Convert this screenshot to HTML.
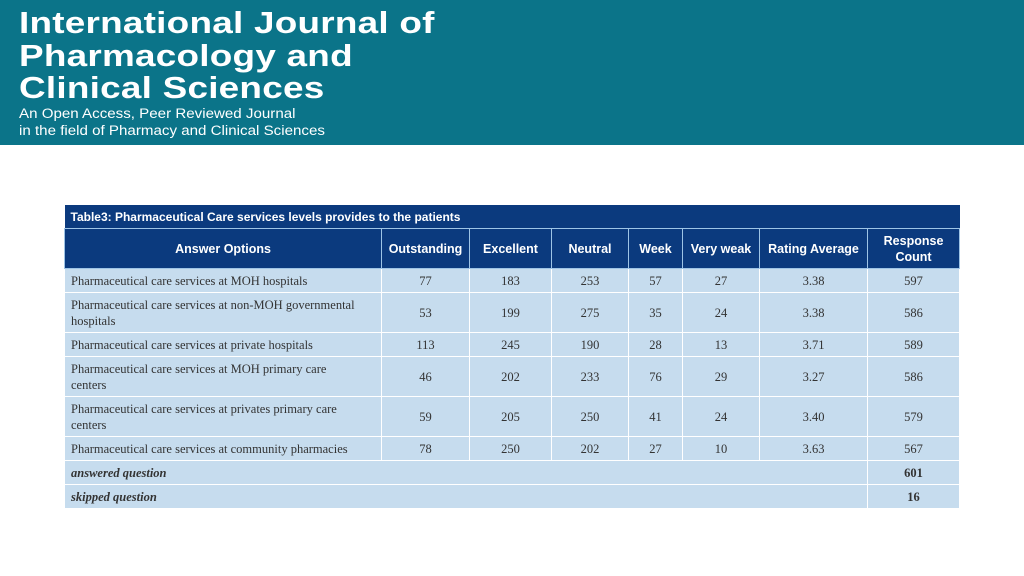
<!DOCTYPE html>
<html><head><meta charset="utf-8">
<style>
body{margin:0;width:1024px;height:576px;background:#fff;position:relative;overflow:hidden;font-family:"Liberation Sans",sans-serif}
#banner{position:absolute;left:0;top:0;width:1024px;height:145px;background:#0b7489;color:#fff}
#t1{position:absolute;left:19px;top:7px;font-size:31px;font-weight:bold;line-height:32.5px;letter-spacing:0.2px;transform:scaleX(1.19);transform-origin:0 0;white-space:nowrap}
#t2{position:absolute;left:19px;top:105px;font-size:13.5px;line-height:17px;transform:scaleX(1.12);transform-origin:0 0;white-space:nowrap}
table{position:absolute;left:64px;top:205px;border-collapse:collapse;table-layout:fixed;width:895px}
td,th{border:1.5px solid #fff;padding:0 6px;font-size:12.5px;color:#333;font-family:"Liberation Serif",serif;background:#c6dcee;text-align:center;line-height:16px}
th{background:#0b3a7e;color:#fff;font-family:"Liberation Sans",sans-serif;font-size:12.5px;font-weight:bold;border-color:#9ec4e6}
td.l{text-align:left;padding-right:24px}
.cap th{text-align:left;border:none;height:23px;font-size:12px}
.hd th{height:39px}
tr.r1 td{height:23px}tr.r2 td{height:39px}
td.i{font-style:italic;font-weight:bold;text-align:left}
</style></head><body>
<div id="banner">
<div id="t1">International Journal of<br>Pharmacology and<br>Clinical Sciences</div>
<div id="t2">An Open Access, Peer Reviewed Journal<br>in the field of Pharmacy and Clinical Sciences</div>
</div>
<table>
<colgroup><col style="width:317px"><col style="width:88px"><col style="width:82px"><col style="width:77px"><col style="width:54px"><col style="width:77px"><col style="width:108px"><col style="width:92px"></colgroup>
<tr class="cap"><th colspan="8">Table3: Pharmaceutical Care services levels provides to the patients</th></tr>
<tr class="hd"><th>Answer Options</th><th>Outstanding</th><th>Excellent</th><th>Neutral</th><th>Week</th><th>Very weak</th><th>Rating Average</th><th>Response Count</th></tr>
<tr class="r1"><td class="l">Pharmaceutical care services at MOH hospitals</td><td>77</td><td>183</td><td>253</td><td>57</td><td>27</td><td>3.38</td><td>597</td></tr>
<tr class="r2"><td class="l">Pharmaceutical care services at non-MOH governmental hospitals</td><td>53</td><td>199</td><td>275</td><td>35</td><td>24</td><td>3.38</td><td>586</td></tr>
<tr class="r1"><td class="l">Pharmaceutical care services at private hospitals</td><td>113</td><td>245</td><td>190</td><td>28</td><td>13</td><td>3.71</td><td>589</td></tr>
<tr class="r2"><td class="l">Pharmaceutical care services at MOH primary care centers</td><td>46</td><td>202</td><td>233</td><td>76</td><td>29</td><td>3.27</td><td>586</td></tr>
<tr class="r2"><td class="l">Pharmaceutical care services at privates primary care centers</td><td>59</td><td>205</td><td>250</td><td>41</td><td>24</td><td>3.40</td><td>579</td></tr>
<tr class="r1"><td class="l">Pharmaceutical care services at community pharmacies</td><td>78</td><td>250</td><td>202</td><td>27</td><td>10</td><td>3.63</td><td>567</td></tr>
<tr class="r1"><td class="i" colspan="7">answered question</td><td style="font-weight:bold">601</td></tr>
<tr class="r1"><td class="i" colspan="7">skipped question</td><td style="font-weight:bold">16</td></tr>
</table>
</body></html>
